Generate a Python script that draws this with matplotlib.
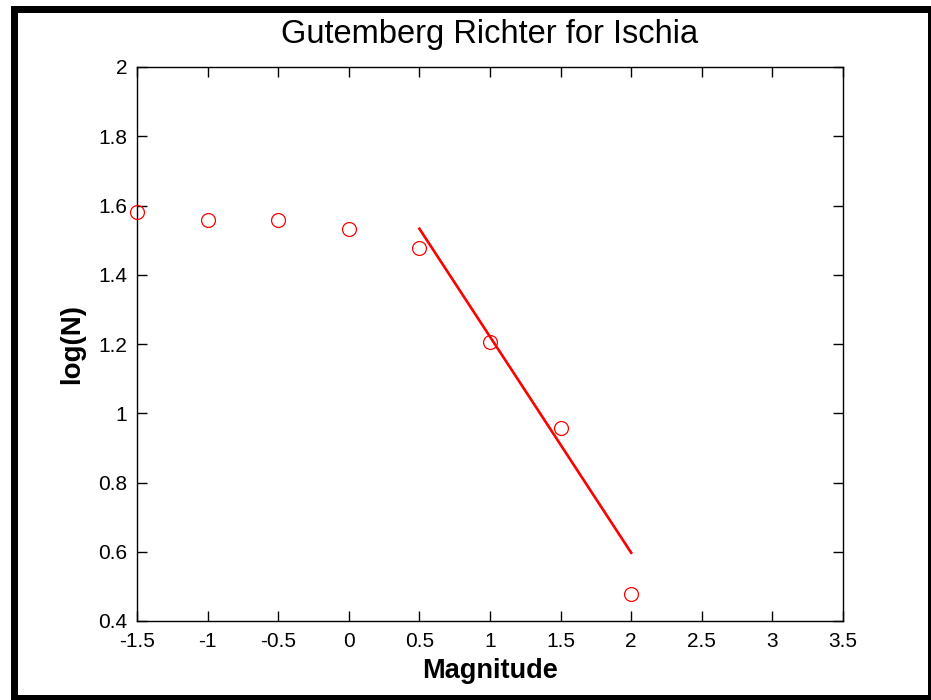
import matplotlib
matplotlib.use("Agg")
import matplotlib.pyplot as plt
from matplotlib.patches import Rectangle
from matplotlib.ticker import FuncFormatter

magnitude = [-1.5, -1.0, -0.5, 0.0, 0.5, 1.0, 1.5, 2.0]
log_n = [1.580, 1.557, 1.557, 1.533, 1.478, 1.205, 0.957, 0.478]
fit_x = [0.5, 2.0]
fit_y = [1.533, 0.597]
x_ticks = [-1.5, -1, -0.5, 0, 0.5, 1, 1.5, 2, 2.5, 3, 3.5]
y_ticks = [0.4, 0.6, 0.8, 1.0, 1.2, 1.4, 1.6, 1.8, 2.0]

plt.rcParams['font.family'] = ['Liberation Sans', 'DejaVu Sans']

fig = plt.figure(figsize=(9.31, 7.0), dpi=100)
W, H = 931.0, 700.0
# black frame
fig.patches.append(Rectangle((11 / W, 0), 1 - 11 / W, 1 - 6 / H, transform=fig.transFigure,
                             facecolor='black', edgecolor='none', zorder=-2))
fig.patches.append(Rectangle((18 / W, 5 / H), (928 - 18) / W, (695 - 13) / H, transform=fig.transFigure,
                             facecolor='white', edgecolor='none', zorder=-1))

ax = fig.add_axes([137 / W, 1 - 621 / H, (843 - 137) / W, (621 - 67) / H])
ax.plot(magnitude, log_n, linestyle='none', marker='o', markersize=10, markerfacecolor='none',
        markeredgecolor='red', markeredgewidth=0.9, clip_on=False, zorder=3)
ax.plot(fit_x, fit_y, color='red', linewidth=1.9, zorder=2)

ax.set_xlim(-1.5, 3.5)
ax.set_ylim(0.4, 2.0)
ax.set_xticks(x_ticks)
ax.set_yticks(y_ticks)
fmt = FuncFormatter(lambda v, p: ('%g' % round(v, 6)))
ax.xaxis.set_major_formatter(fmt)
ax.yaxis.set_major_formatter(fmt)
ax.tick_params(direction='in', length=7, width=1, top=True, right=True,
               labelsize=15, colors='black')
ax.tick_params(axis='x', pad=8)
ax.tick_params(axis='y', pad=7)
for s in ax.spines.values():
    s.set_linewidth(1.0)
    s.set_color('black')

ax.set_title('Gutemberg Richter for Ischia', fontsize=23.5, pad=17)
ax.set_xlabel('Magnitude', fontsize=19.5, fontweight='bold')
ax.set_ylabel('log(N)', fontsize=20, fontweight='bold')
ax.xaxis.set_label_coords(0.5, -0.066)
ax.xaxis.label.set_va('top')
ax.yaxis.set_label_coords(-0.074, 0.5)

fig.savefig('out.png', dpi=100)
